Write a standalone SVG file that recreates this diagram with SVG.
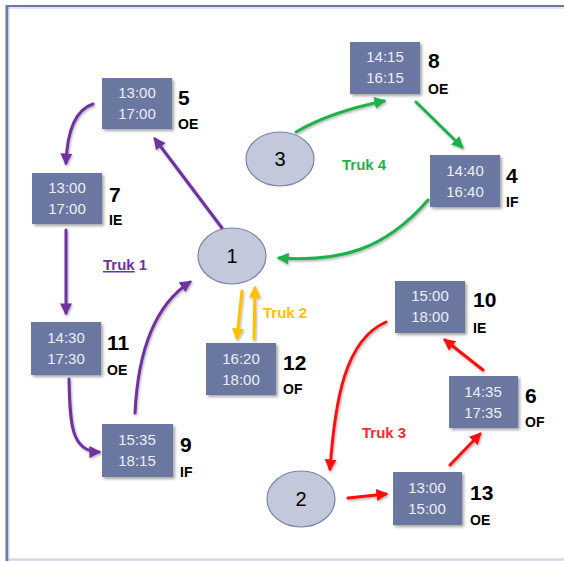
<svg xmlns="http://www.w3.org/2000/svg" width="564" height="561" viewBox="0 0 564 561">
  <defs>
    <filter id="shadow" x="-20%" y="-20%" width="150%" height="150%">
      <feDropShadow dx="2" dy="2" stdDeviation="1.5" flood-color="#000" flood-opacity="0.35"/>
    </filter>
    <filter id="lineShadow" filterUnits="userSpaceOnUse" x="0" y="0" width="564" height="561">
      <feDropShadow dx="1" dy="1.5" stdDeviation="1" flood-color="#000" flood-opacity="0.3"/>
    </filter>
    <marker id="ahPurple" viewBox="0 0 10 10" refX="8" refY="5" markerWidth="4" markerHeight="4" orient="auto" markerUnits="strokeWidth">
      <path d="M0,0 L10,5 L0,10 z" fill="#7030a0"/>
    </marker>
    <marker id="ahGreen" viewBox="0 0 10 10" refX="8" refY="5" markerWidth="4" markerHeight="4" orient="auto" markerUnits="strokeWidth">
      <path d="M0,0 L10,5 L0,10 z" fill="#1fb14a"/>
    </marker>
    <marker id="ahOrange" viewBox="0 0 10 10" refX="8" refY="5" markerWidth="4" markerHeight="4" orient="auto" markerUnits="strokeWidth">
      <path d="M0,0 L10,5 L0,10 z" fill="#ffc000"/>
    </marker>
    <marker id="ahRed" viewBox="0 0 10 10" refX="8" refY="5" markerWidth="4" markerHeight="4" orient="auto" markerUnits="strokeWidth">
      <path d="M0,0 L10,5 L0,10 z" fill="#ff1010"/>
    </marker>
  </defs>
  <style>
    .box { fill: #6b77a1; filter: url(#shadow); }
    .time { font-family: "Liberation Sans", Arial, sans-serif; font-size: 15px; fill: #eceef5; text-anchor: middle; }
    .num { font-family: "Liberation Sans", Arial, sans-serif; font-size: 21px; font-weight: bold; fill: #000; }
    .code { font-family: "Liberation Sans", Arial, sans-serif; font-size: 14px; font-weight: bold; fill: #000; }
    .depot { fill: #c4c8db; stroke: #7882ab; stroke-width: 1.2; }
    .depotText { font-family: "Liberation Sans", Arial, sans-serif; font-size: 20px; fill: #000; text-anchor: middle; }
    .conn { fill: none; stroke-width: 3; stroke-linecap: round; filter: url(#lineShadow); }
    .purple { stroke: #7030a0; marker-end: url(#ahPurple); }
    .green { stroke: #1fb14a; marker-end: url(#ahGreen); }
    .orange { stroke: #ffc000; marker-end: url(#ahOrange); }
    .red { stroke: #ff1010; marker-end: url(#ahRed); }
    .truk { font-family: "Liberation Sans", Arial, sans-serif; font-size: 15px; font-weight: bold; }
  </style>

  <!-- page frame -->
  <rect x="0" y="0" width="564" height="561" fill="#fff"/>
  <line x1="6" y1="6" x2="564" y2="6" stroke="#6c77a8" stroke-width="2"/>
  <line x1="8" y1="8" x2="564" y2="8" stroke="#d8dbe9" stroke-width="1.5"/>
  <line x1="7" y1="5" x2="7" y2="561" stroke="#6c77a8" stroke-width="3"/>
  <line x1="9" y1="9" x2="9" y2="558" stroke="#d8dbe9" stroke-width="1"/>
  <line x1="9" y1="559.5" x2="564" y2="559.5" stroke="#d2d5e6" stroke-width="2.5"/>

  <!-- connectors -->
  <g id="connectors">
    <!-- Truk 1 -->
    <path class="conn purple" d="M222,228 L155,139"/>
    <path class="conn purple" d="M93,104 Q68,112 66,163"/>
    <path class="conn purple" d="M66,230 L66,313"/>
    <path class="conn purple" d="M69,379 C70,420 70,452 99,452"/>
    <path class="conn purple" d="M135,413 C138,350 155,305 190,282"/>
    <!-- Truk 4 -->
    <path class="conn green" d="M296,132 Q330,112 384,101"/>
    <path class="conn green" d="M416,102 L462,147"/>
    <path class="conn green" d="M428,200 C385,250 340,262 279,258"/>
    <!-- Truk 2 -->
    <path class="conn orange" d="M242,291 L237,338"/>
    <path class="conn orange" d="M254,339 L255,288"/>
    <!-- Truk 3 -->
    <path class="conn red" d="M386,322 C345,340 335,400 330,469"/>
    <path class="conn red" d="M348,498 L386,494"/>
    <path class="conn red" d="M450,465 L480,434"/>
    <path class="conn red" d="M483,370 L445,340"/>
  </g>

  <!-- route labels -->
  <g id="route-labels">
    <text class="truk" x="103" y="270" fill="#7030a0"><tspan text-decoration="underline">Truk</tspan> 1</text>
    <text class="truk" x="263" y="318" fill="#ffc000">Truk 2</text>
    <text class="truk" x="362" y="438" fill="#ff2a2a">Truk 3</text>
    <text class="truk" x="342" y="170" fill="#1fb14a">Truk 4</text>
  </g>

  <!-- depots -->
  <g id="depot-1">
    <ellipse class="depot" cx="232" cy="256" rx="34" ry="28"/>
    <text class="depotText" x="232" y="263">1</text>
  </g>
  <g id="depot-2">
    <ellipse class="depot" cx="301" cy="499" rx="34" ry="28"/>
    <text class="depotText" x="301" y="506">2</text>
  </g>
  <g id="depot-3">
    <ellipse class="depot" cx="280" cy="159" rx="34" ry="27"/>
    <text class="depotText" x="280" y="166">3</text>
  </g>

  <!-- customer nodes -->
  <g id="node-5">
    <rect class="box" x="102" y="78" width="70" height="51"/>
    <text class="time" x="137" y="98">13:00</text>
    <text class="time" x="137" y="119">17:00</text>
    <text class="num" x="178" y="105">5</text>
    <text class="code" x="178" y="129">OE</text>
  </g>
  <g id="node-7">
    <rect class="box" x="32" y="173" width="70" height="51"/>
    <text class="time" x="67" y="193">13:00</text>
    <text class="time" x="67" y="214">17:00</text>
    <text class="num" x="109" y="202">7</text>
    <text class="code" x="109" y="225">IE</text>
  </g>
  <g id="node-11">
    <rect class="box" x="31" y="322" width="70" height="53"/>
    <text class="time" x="66" y="343">14:30</text>
    <text class="time" x="66" y="364">17:30</text>
    <text class="num" x="107" y="350">11</text>
    <text class="code" x="107" y="375">OE</text>
  </g>
  <g id="node-9">
    <rect class="box" x="102" y="424" width="71" height="53"/>
    <text class="time" x="137" y="445">15:35</text>
    <text class="time" x="137" y="466">18:15</text>
    <text class="num" x="180" y="452">9</text>
    <text class="code" x="180" y="477">IF</text>
  </g>
  <g id="node-12">
    <rect class="box" x="206" y="343" width="70" height="52"/>
    <text class="time" x="241" y="364">16:20</text>
    <text class="time" x="241" y="385">18:00</text>
    <text class="num" x="283" y="370">12</text>
    <text class="code" x="283" y="394">OF</text>
  </g>
  <g id="node-8">
    <rect class="box" x="350" y="42" width="70" height="52"/>
    <text class="time" x="385" y="62">14:15</text>
    <text class="time" x="385" y="83">16:15</text>
    <text class="num" x="428" y="68">8</text>
    <text class="code" x="428" y="94">OE</text>
  </g>
  <g id="node-4">
    <rect class="box" x="430" y="155" width="70" height="52"/>
    <text class="time" x="465" y="176">14:40</text>
    <text class="time" x="465" y="197">16:40</text>
    <text class="num" x="506" y="183">4</text>
    <text class="code" x="506" y="207">IF</text>
  </g>
  <g id="node-10">
    <rect class="box" x="395" y="281" width="70" height="52"/>
    <text class="time" x="430" y="301">15:00</text>
    <text class="time" x="430" y="322">18:00</text>
    <text class="num" x="473" y="307">10</text>
    <text class="code" x="473" y="333">IE</text>
  </g>
  <g id="node-6">
    <rect class="box" x="449" y="376" width="69" height="52"/>
    <text class="time" x="483" y="397">14:35</text>
    <text class="time" x="483" y="418">17:35</text>
    <text class="num" x="525" y="403">6</text>
    <text class="code" x="525" y="427">OF</text>
  </g>
  <g id="node-13">
    <rect class="box" x="393" y="472" width="69" height="53"/>
    <text class="time" x="427" y="493">13:00</text>
    <text class="time" x="427" y="514">15:00</text>
    <text class="num" x="470" y="500">13</text>
    <text class="code" x="470" y="525">OE</text>
  </g>
</svg>
